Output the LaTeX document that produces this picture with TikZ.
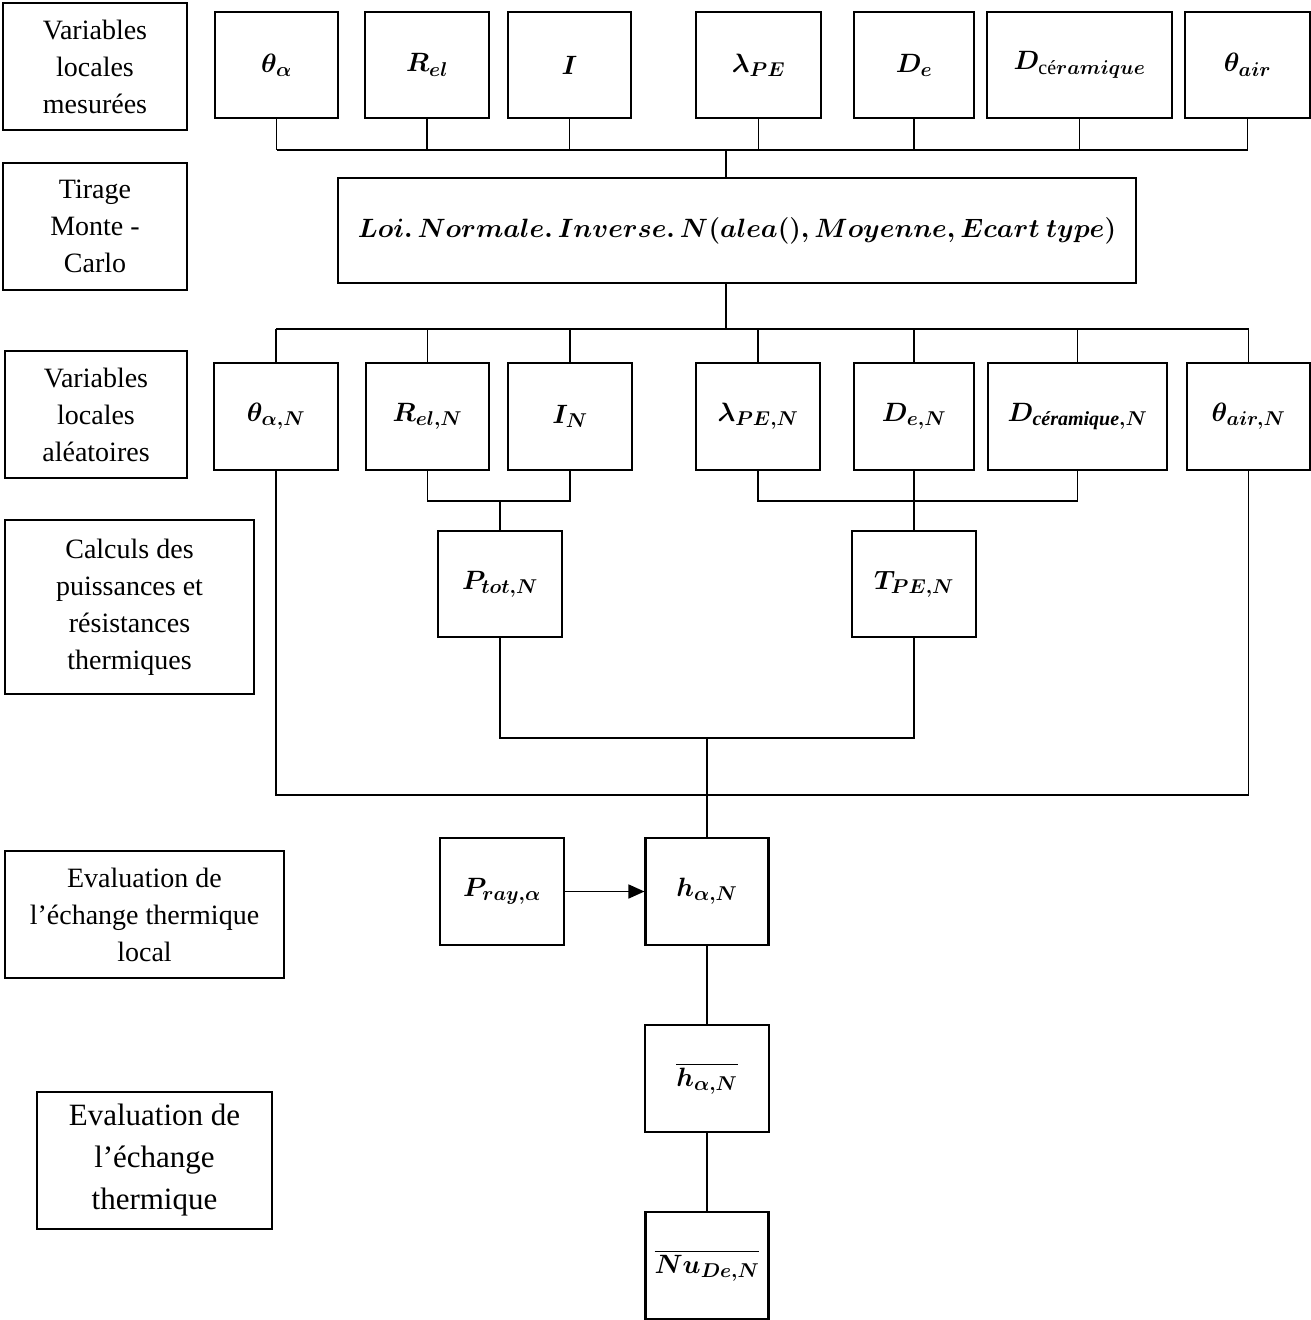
\documentclass[tikz,border=0pt]{standalone}
\usepackage{fix-cm}
\usepackage[no-math]{fontspec}
\setmainfont{Liberation Serif}
\usepackage{amsmath}
\DeclareMathSizes{26.5}{26.5}{20}{15}
\usetikzlibrary{arrows.meta}
\tikzset{
  box/.style={draw,line width=2.1pt,inner sep=0pt,align=center,minimum height=106pt,font=\fontsize{26.5}{30}\selectfont\boldmath},
  lbl/.style={draw,line width=2.1pt,inner sep=0pt,align=center,font=\fontsize{28}{37}\selectfont},
  wire/.style={line width=1.6pt},
}
\begin{document}
\begin{tikzpicture}[x=1pt,y=-1pt]
  \useasboundingbox (0,0) rectangle (1311,1320);
  % stages
  \node[lbl,minimum width=184pt,minimum height=127pt] (lmes) at (95,66.5) {Variables\\locales\\mesurées};
  \node[lbl,minimum width=184pt,minimum height=127pt] (ltir) at (95,226.5) {Tirage\\Monte -\\Carlo};
  \node[lbl,minimum width=182pt,minimum height=127pt] (lalea) at (96,414.5) {Variables\\locales\\aléatoires};
  \node[lbl,minimum width=249pt,minimum height=174pt] (lcalc) at (129.5,607) {Calculs des\\puissances et\\résistances\\thermiques};
  \node[lbl,minimum width=279pt,minimum height=127pt] (lloc) at (144.5,914.5) {Evaluation de\\l’échange thermique\\local};
  \node[lbl,minimum width=235pt,minimum height=137pt,font=\fontsize{31}{42}\selectfont] (lglob) at (154.5,1160.5) {Evaluation de\\l’échange\\thermique};

  % measured variables
  \node[box,minimum width=123pt] (t1) at (276.5,65) {$\theta_\alpha$};
  \node[box,minimum width=124pt] (t2) at (427,65) {$R_{el}$};
  \node[box,minimum width=123pt] (t3) at (569.5,65) {$I$};
  \node[box,minimum width=125pt] (t4) at (758.5,65) {$\lambda_{PE}$};
  \node[box,minimum width=120pt] (t5) at (914,65) {$D_e$};
  \node[box,minimum width=185pt] (t6) at (1079.5,65) {$D_{\text{cé}ramique}$};
  \node[box,minimum width=125pt] (t7) at (1247.5,65) {$\theta_{air}$};

  \node[box,minimum width=798pt,minimum height=105pt] (loi) at (737,230.5)
    {$Loi\ldotp Normale\ldotp Inverse\ldotp N(alea(),Moyenne,Ecart\ type)$};

  % random variables
  \node[box,minimum width=124pt,minimum height=107pt] (r1) at (276,416.5) {$\theta_{\alpha,N}$};
  \node[box,minimum width=123pt,minimum height=107pt] (r2) at (427.5,416.5) {$R_{el,N}$};
  \node[box,minimum width=124pt,minimum height=107pt] (r3) at (570,416.5) {$I_N$};
  \node[box,minimum width=124pt,minimum height=107pt] (r4) at (758,416.5) {$\lambda_{PE,N}$};
  \node[box,minimum width=120pt,minimum height=107pt] (r5) at (914,416.5) {$D_{e,N}$};
  \node[box,minimum width=179pt,minimum height=107pt] (r6) at (1077.5,416.5) {$D_{\textbf{\textit{céramique}},N}$};
  \node[box,minimum width=123pt,minimum height=107pt] (r7) at (1248.5,416.5) {$\theta_{air,N}$};

  \node[box,minimum width=124pt] (ptot) at (500,584) {$P_{tot,N}$};
  \node[box,minimum width=124pt] (tpe) at (914,584) {$T_{PE,N}$};

  \node[box,minimum width=124pt,minimum height=107pt] (pray) at (502,891.5) {$P_{ray,\alpha}$};
  \node[box,minimum width=123pt,minimum height=107pt] (h) at (707,891.5) {$h_{\alpha,N}$};
  \node[box,minimum width=124pt,minimum height=107pt] (hbar) at (707,1078.5) {$\overline{h_{\alpha,N}}$};
  \node[box,minimum width=123pt,minimum height=107pt] (nu) at (707,1265.5) {$\overline{Nu_{De,N}}$};

  % buses
  \coordinate (trk) at (726,0);
  \coordinate (bus1) at (0,150);
  \coordinate (bus2) at (0,329);
  \coordinate (bus3) at (0,501);
  \coordinate (bus4) at (0,738);
  \coordinate (bus5) at (0,795);

  \foreach \n in {t1,t2,t3,t4,t5,t6,t7}
    \draw[wire] (\n.south) -- (\n.south |- bus1);
  \draw[wire] (t1.south |- bus1) -- (t7.south |- bus1);
  \draw[wire] (trk |- bus1) -- (trk |- loi.north);

  \draw[wire] (trk |- loi.south) -- (trk |- bus2);
  \draw[wire] (r1.north |- bus2) -- (r7.north |- bus2);
  \foreach \n in {r1,r2,r3,r4,r5,r6,r7}
    \draw[wire] (\n.north |- bus2) -- (\n.north);

  \draw[wire] (r2.south) |- (r3.south |- bus3) -- (r3.south);
  \draw[wire] (ptot.north |- bus3) -- (ptot.north);
  \draw[wire] (r4.south) |- (r6.south |- bus3) -- (r6.south);
  \draw[wire] (r5.south) -- (tpe.north);

  \draw[wire] (ptot.south) |- (tpe.south |- bus4) -- (tpe.south);
  \draw[wire] (r1.south) |- (r7.south |- bus5) -- (r7.south);
  \draw[wire] (h.north |- bus4) -- (h.north);

  \draw[wire,-{Triangle[length=16pt,width=14pt]}] (pray) -- (h);
  \draw[wire] (h) -- (hbar);
  \draw[wire] (hbar) -- (nu);
\end{tikzpicture}
\end{document}
